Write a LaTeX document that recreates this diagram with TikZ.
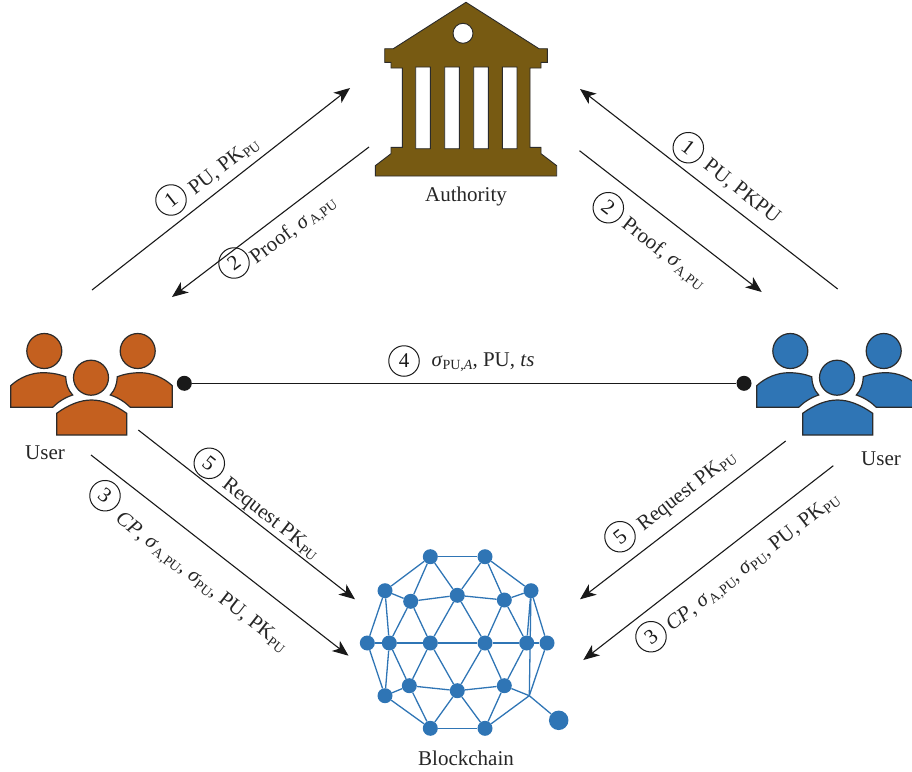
\documentclass[tikz,border=0pt]{standalone}
\usepackage{fontspec}
\setmainfont{Liberation Serif}
\usetikzlibrary{arrows.meta,backgrounds}
\definecolor{naranjo}{HTML}{C4601F}
\definecolor{azul}{HTML}{2F75B5}
\definecolor{cafe}{HTML}{775A12}
\definecolor{borde}{HTML}{2B2B2B}

\newcommand{\dn}[1]{\raisebox{-.35ex}{\fontsize{14}{14}\selectfont #1}}
\newcommand{\sig}{\textit{σ}}
\newcommand{\userside}{(10.7,407.3) -- (10.7,385.7) .. controls (20,377) and (32,372.7) .. (43,372.7)
  .. controls (52,372.7) and (60,374.5) .. (65.7,376.7) .. controls (66,384) and (68,390) .. (72.7,395)
  .. controls (65,397.5) and (58,402) .. (52.7,407.3) -- cycle}

\tikzset{
  every node/.style={font=\fontsize{21}{24}\selectfont,text=black!85},
  msg/.style={line width=1.1pt,black!90,-{Stealth[length=16pt,width=13pt,inset=4.5pt]}},
  num/.style={circle,draw,line width=1pt,black!90,minimum size=30.5pt,inner sep=0pt},
  userpart/.style={draw=borde,line width=1.2pt},
  chainnode/.style={circle,fill=azul,inner sep=0pt,minimum size=15pt},
  chainedge/.style={azul,line width=1.3pt}
}

\begin{document}
\begin{tikzpicture}[x=1pt,y=-1pt]

  \useasboundingbox (0,0) rectangle (912,771);

  % authority
  \draw[fill=cafe,draw=borde,line width=0.9pt,even odd rule]
    (466,2.3) -- (539,48.7) -- (547.3,48.7) -- (547.3,62.3) -- (541,62.3) -- (541,68) -- (530,68)
    -- (530,147.3) -- (541,147.3) -- (541,153.7) -- (556.7,165.7) -- (556.7,176) -- (375.3,176)
    -- (375.3,165.7) -- (391,153.7) -- (391,147.3) -- (402.3,147.3) -- (402.3,68) -- (391,68)
    -- (391,62.3) -- (384.7,62.3) -- (384.7,48.7) -- (393.3,48.7) -- cycle
    (463,33.3) circle [radius=10]
    (415.7,67) rectangle (430.3,148.7)
    (444.7,67) rectangle (459.3,148.7)
    (473.7,67) rectangle (488.3,148.7)
    (502.3,67) rectangle (517,148.7);
  \node (authority) at (466,196) {Authority};

  % users
  \foreach \sx/\col in {0/naranjo,746/azul} {
    \begin{scope}[shift={(\sx,0)}]
      \draw[userpart,fill=\col] \userside;
      \begin{scope}[xshift=183pt,xscale=-1]
        \draw[userpart,fill=\col] \userside;
      \end{scope}
      \draw[userpart,fill=\col] (44.3,351) circle [radius=17.5];
      \draw[userpart,fill=\col] (137.7,351) circle [radius=17.5];
      \draw[userpart,fill=\col] (91,377.7) circle [radius=17.5];
      \draw[userpart,fill=\col] (56.7,435) -- (56.7,413.3) .. controls (68,405) and (80,400) .. (91.5,400)
        .. controls (103,400) and (115,405) .. (126.7,413.3) -- (126.7,435) -- cycle;
    \end{scope}
  }
  \node (userL) at (45,453) {User};
  \node (userR) at (881,459) {User};

  % blockchain
  \foreach \nm/\xx/\yy in {t1/430.3/556.7,t2/485/556.7,
    a1/385/590.7,a2/410.7/601.3,a3/457.3/595.3,a4/504.3/600,a5/531/590.7,
    m1/367.3/643,m2/389.3/643,m3/430.3/643,m4/485/643,m5/526.7/643,m6/547/643,
    b1/385/695.7,b2/409.3/685.7,b3/457.3/690.7,b4/504.3/685.7,
    c1/430.3/728.3,c2/485/728.3}
    \node[chainnode] (\nm) at (\xx,\yy) {};
  \node[chainnode,minimum size=19.5pt] (tail) at (558.7,720.3) {};
  \coordinate (junc) at (529.3,695.7);
  \node (blockchain) at (466,758) {Blockchain};

  \begin{pgfonlayer}{background}
    \foreach \ea/\eb in {t1/t2,t1/a1,t1/a2,t1/a3,t2/a3,t2/a4,t2/a5,
      a1/a2,a2/a3,a3/a4,a4/a5,
      a1/m1,a1/m2,a2/m2,a2/m3,a3/m3,a3/m4,a4/m4,a4/m5,a5/m5,a5/m6,a5/junc,
      m1/m2,m2/m3,m3/m4,m4/m5,m5/m6,
      m1/b1,m2/b1,m2/b2,m3/b2,m3/b3,m4/b3,m4/b4,m5/b4,m6/junc,
      b1/b2,b2/b3,b3/b4,b1/c1,b2/c1,b3/c1,b3/c2,b4/c2,junc/c2,
      c1/c2,b4/junc,junc/tail}
      \draw[chainedge] (\ea) -- (\eb);
  \end{pgfonlayer}

  % messages
  \coordinate (l1s) at (92,290);    \coordinate (l1e) at (350,88);
  \coordinate (l2s) at (369,147);   \coordinate (l2e) at (172,297);
  \coordinate (r1s) at (837.7,289); \coordinate (r1e) at (580,89);
  \coordinate (r2s) at (579.5,150.7); \coordinate (r2e) at (761.7,292);
  \coordinate (l5s) at (138.3,430); \coordinate (l5e) at (355,599.3);
  \coordinate (l3s) at (91,455);    \coordinate (l3e) at (348.5,655.7);
  \coordinate (r5s) at (785.7,441); \coordinate (r5e) at (580,599.3);
  \coordinate (r3s) at (833.3,465.7); \coordinate (r3e) at (583.3,660);

  \foreach \ms in {l1,l2,r1,r2,l5,l3,r5,r3}
    \draw[msg] (\ms s) -- (\ms e);

  \node[circle,fill=black!90,inner sep=0pt,minimum size=15pt] (dotL) at (184.3,383.3) {};
  \node[circle,fill=black!90,inner sep=0pt,minimum size=15pt] (dotR) at (744,383.3) {};
  \draw[line width=1.1pt,black!90] (dotL) -- (dotR);

  % labels
  \node[num,rotate=38] (n1L) at (171,200) {1};
  \node[rotate=38] (t1L) at (224,166.5) {PU, PK\dn{PU}};
  \node[num,rotate=37] (n2L) at (234,263) {2};
  \node[rotate=37] (t2L) at (293.5,230.5) {Proof, \sig\kern1pt\dn{A,PU}};
  \node[num,rotate=-38] (n1R) at (688.3,147.7) {1};
  \node[rotate=-38] (t1R) at (741.7,191.7) {PU, PKPU};
  \node[num,rotate=-38] (n2R) at (608.3,207.7) {2};
  \node[rotate=-38] (t2R) at (663.5,254) {Proof, \sig\kern1pt\dn{A,PU}};
  \node[num] (n4) at (404,361) {4};
  \node (t4) at (483,362) {\sig\dn{PU,\textit{A}}, PU, \textit{ts}};
  \node[num,rotate=-38] (n5L) at (209.3,463.3) {5};
  \node[rotate=-38] (t5L) at (270.5,519.5) {Request PK\dn{PU}};
  \node[num,rotate=-38] (n3L) at (105,495.7) {3};
  \node[rotate=-38] (t3L) at (201,583) {\textit{CP}, \sig\kern1pt\dn{A,PU}, \sig\dn{PU}, PU, PK\dn{PU}};
  \node[num,rotate=38] (n5R) at (620,536.7) {5};
  \node[rotate=38] (t5R) at (687,491.5) {Request PK\dn{PU}};
  \node[num,rotate=38] (n3R) at (651,636.7) {3};
  \node[rotate=38] (t3R) at (753.5,563) {\textit{CP}, \sig\kern1pt\dn{A,PU}, \sig\dn{PU}, PU, PK\dn{PU}};

\end{tikzpicture}
\end{document}
